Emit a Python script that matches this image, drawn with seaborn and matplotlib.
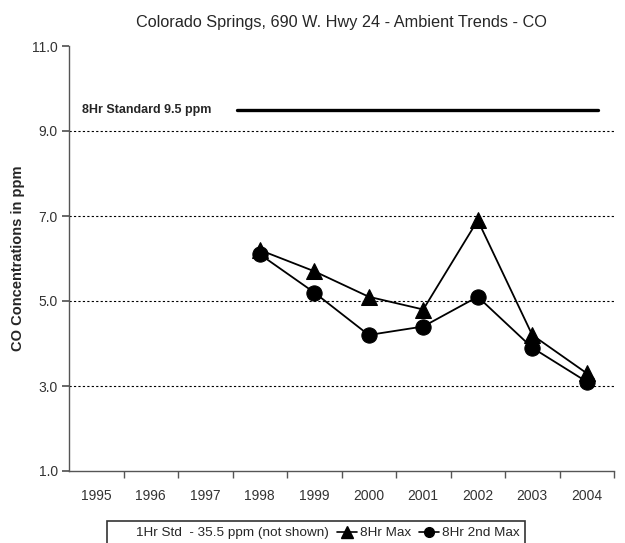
import matplotlib

matplotlib.use("Agg")
import matplotlib.pyplot as plt  # noqa: E402
import pandas as pd  # noqa: E402
import seaborn as sns  # noqa: E402
from matplotlib.lines import Line2D  # noqa: E402

years = [1995, 1996, 1997, 1998, 1999, 2000, 2001, 2002, 2003, 2004]
max_years = [1998, 1999, 2000, 2001, 2002, 2003, 2004]
max_8hr = [6.2, 5.7, 5.1, 4.8, 6.9, 4.2, 3.3]
second_max_8hr = [6.1, 5.2, 4.2, 4.4, 5.1, 3.9, 3.1]
standard_8hr = 9.5

sns.set_theme(style="white")
plt.rcParams["font.family"] = ["Liberation Sans", "DejaVu Sans"]

pos = {y: i for i, y in enumerate(years)}
df = pd.DataFrame(
    {
        "x": [pos[y] for y in max_years] * 2,
        "value": max_8hr + second_max_8hr,
        "series": ["8Hr Max"] * len(max_years) + ["8Hr 2nd Max"] * len(max_years),
    }
)

fig = plt.figure(figsize=(6.25, 5.43), dpi=100)
ax = fig.add_axes([69 / 625, 72 / 543, 545 / 625, 425 / 543])

for name, marker in [("8Hr Max", "^"), ("8Hr 2nd Max", "o")]:
    sns.lineplot(
        data=df[df["series"] == name],
        x="x",
        y="value",
        ax=ax,
        color="black",
        lw=1.3,
        marker=marker,
        markersize=11,
        markeredgecolor="black",
        legend=False,
    )

# 8-hour standard line
ax.plot([2.58, 9.2], [standard_8hr, standard_8hr], color="black", lw=2.4)
ax.text(-0.27, standard_8hr, "8Hr Standard 9.5 ppm", fontsize=9,
        fontweight="bold", va="center", ha="left")

ax.set_xlim(-0.5, len(years) - 0.5)
ax.set_ylim(1.0, 11.0)
ax.set_yticks([1, 3, 5, 7, 9, 11])
ax.set_yticklabels([f"{v:.1f}" for v in [1, 3, 5, 7, 9, 11]], fontsize=10,
                   color="#333333")
ax.set_xticks(range(len(years)))
ax.set_xticklabels([str(y) for y in years], fontsize=10, color="#333333")
ax.set_xticks([i - 0.5 for i in range(1, len(years) + 1)], minor=True)
ax.tick_params(axis="x", which="major", length=0, pad=13)
ax.tick_params(axis="x", which="minor", length=5, color="#555555",
               direction="out", bottom=True)
ax.tick_params(axis="y", length=5, color="#555555", direction="out", left=True,
               pad=3)

for v in [3, 5, 7, 9]:
    ax.axhline(v, color="black", lw=0.8, ls=(0, (2, 2)), zorder=0)

for side in ["top", "right"]:
    ax.spines[side].set_visible(False)
for side in ["left", "bottom"]:
    ax.spines[side].set_color("#555555")
    ax.spines[side].set_linewidth(1.0)

ax.set_xlabel("")
ax.set_ylabel("CO Concentrations in ppm", fontsize=10.5, fontweight="bold",
              va="center")
ax.yaxis.set_label_coords(-51 / 545, 0.5)
ax.set_title("Colorado Springs, 690 W. Hwy 24 - Ambient Trends - CO",
             fontsize=11.7, pad=14)

handles = [
    Line2D([], [], color="none"),
    Line2D([], [], color="black", marker="^", markersize=8, lw=1.2),
    Line2D([], [], color="black", marker="o", markersize=7, lw=1.2),
]
labels = ["1Hr Std  - 35.5 ppm (not shown)", "8Hr Max", "8Hr 2nd Max"]
leg = fig.legend(
    handles, labels, loc="upper left", bbox_to_anchor=(100 / 625, 1 - 514 / 543),
    ncol=3, frameon=True, fancybox=False, fontsize=9.7, handlelength=1.5,
    handletextpad=0.2, columnspacing=0.6, borderpad=0.45,
)
leg.get_frame().set_edgecolor("black")
leg.get_frame().set_linewidth(1.2)

fig.savefig("out.png", dpi=100)
